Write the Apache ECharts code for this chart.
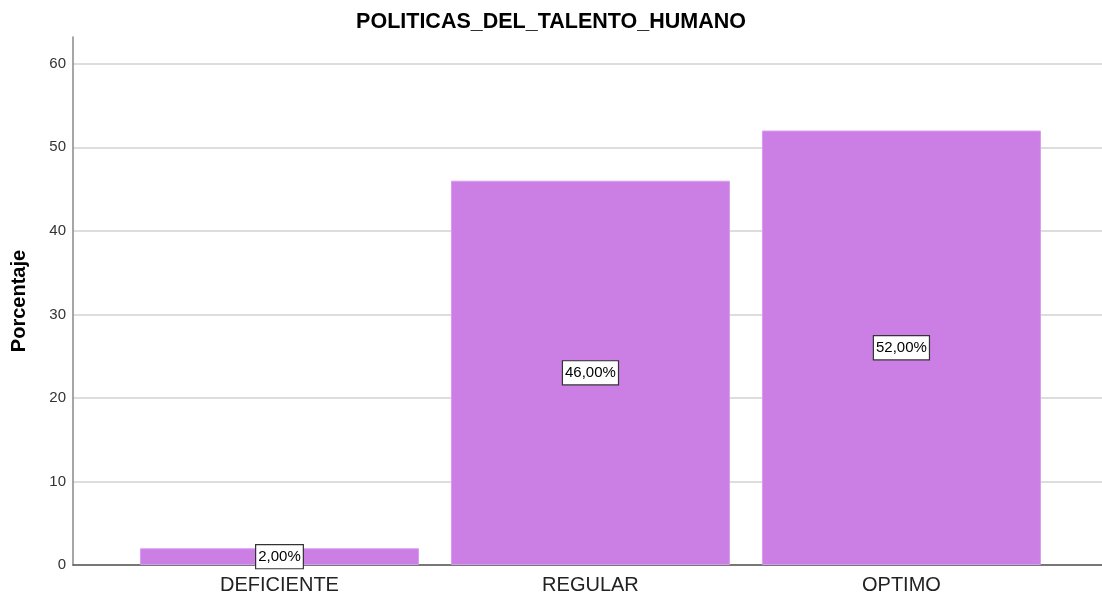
<!DOCTYPE html>
<html>
<head>
<meta charset="utf-8">
<script src="https://cdn.jsdelivr.net/npm/echarts@6/dist/echarts.min.js"></script>
<style>
  html, body { margin: 0; padding: 0; background: #fff; }
  #chart { width: 1102px; height: 598px; }
</style>
</head>
<body>
<div id="chart"></div>
<script>
// Percentages per category
const categories = ['DEFICIENTE', 'REGULAR', 'OPTIMO'];
const percentValues = [2, 46, 52];
const yTicks = [0, 10, 20, 30, 40, 50, 60];

const FONT = '"Liberation Sans", Arial, sans-serif';

const chart = echarts.init(document.getElementById('chart'));

chart.setOption({
  animation: false,
  backgroundColor: '#ffffff',
  title: {
    text: 'POLITICAS_DEL_TALENTO_HUMANO',
    left: 'center',
    top: 6,
    textStyle: { fontFamily: FONT, fontSize: 21.5, fontWeight: 'bold', color: '#000' }
  },
  grid: { left: 73, right: 0, top: 37, bottom: 33, containLabel: false },
  xAxis: {
    type: 'value',
    min: -0.664,
    max: 2.645,
    axisLine: { show: true, lineStyle: { color: '#555', width: 1.5 } },
    axisTick: { show: false },
    splitLine: { show: false },
    axisLabel: {
      customValues: categories.map((c, i) => i),
      formatter: v => categories[Math.round(v)] || '',
      fontFamily: FONT,
      fontSize: 20,
      color: '#222',
      margin: 10
    }
  },
  yAxis: {
    type: 'value',
    name: 'Porcentaje',
    nameLocation: 'middle',
    nameGap: 44,
    nameTextStyle: { fontFamily: FONT, fontSize: 20, fontWeight: 'bold', color: '#000' },
    min: 0,
    max: 63.2,
    interval: 10,
    axisLine: { show: true, onZero: false, lineStyle: { color: '#888', width: 1.5 } },
    axisTick: { show: false },
    splitLine: { show: true, showMaxLine: false, lineStyle: { color: '#d2d2d2', width: 1.5 } },
    axisLabel: {
      customValues: yTicks,
      fontFamily: FONT,
      fontSize: 15,
      color: '#333',
      margin: 7
    }
  },
  series: [{
    type: 'bar',
    data: percentValues.map((v, i) => [i, v]),
    barWidth: 279,
    itemStyle: { color: '#cb7fe5', borderColor: '#d99bf0', borderWidth: 1 },
    label: {
      show: true,
      position: 'inside',
      formatter: p => p.value[1].toFixed(2).replace('.', ',') + '%',
      fontFamily: FONT,
      fontSize: 15,
      lineHeight: 16,
      color: '#000',
      backgroundColor: '#fff',
      borderColor: '#333',
      borderWidth: 1.2,
      padding: [4, 2, 3, 2]
    }
  }]
});
</script>
</body>
</html>
